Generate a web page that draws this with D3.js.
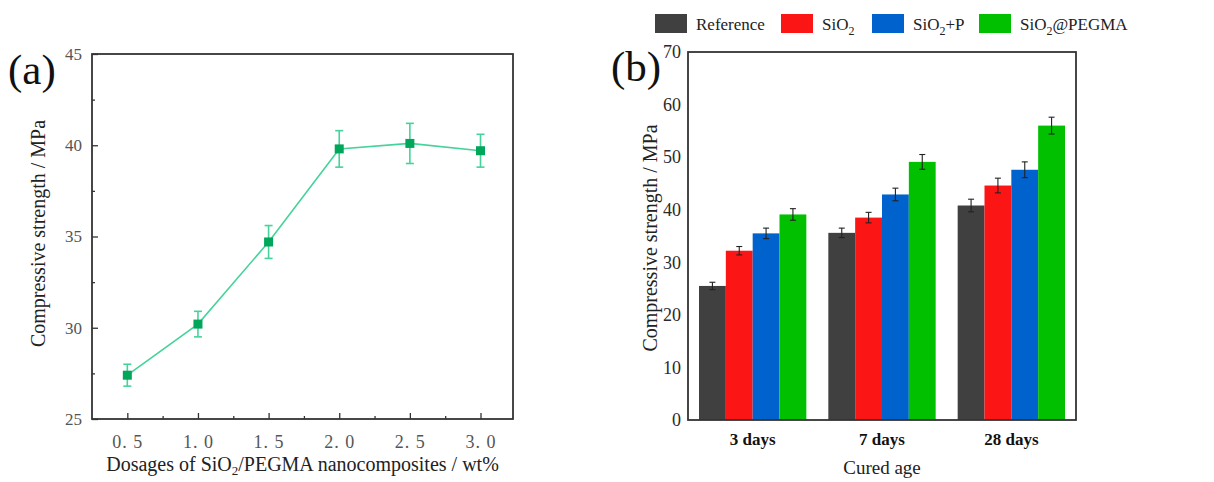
<!DOCTYPE html>
<html><head><meta charset="utf-8">
<script src="https://cdn.jsdelivr.net/npm/d3@7"></script>
<style>body{margin:0;background:#fff;} svg{display:block;}</style>
</head><body>
<svg id="c" width="1214" height="482"></svg>
<script>
// ---- Panel (a) data ----
const dosages = [0.5, 1.0, 1.5, 2.0, 2.5, 3.0];
const dosageLabels = ["0. 5", "1. 0", "1. 5", "2. 0", "2. 5", "3. 0"];
const strengthA = [27.4, 30.2, 34.7, 39.8, 40.1, 39.7];
const errorA = [0.6, 0.7, 0.9, 1.0, 1.1, 0.9];
const yTicksA = [25, 30, 35, 40, 45];

// ---- Panel (b) data ----
const ages = ["3 days", "7 days", "28 days"];
const seriesNames = ["Reference", "SiO2", "SiO2+P", "SiO2@PEGMA"];
const reference = [25.5, 35.6, 40.8];
const sio2 = [32.2, 38.5, 44.6];
const sio2P = [35.5, 42.9, 47.6];
const sio2Pegma = [39.1, 49.1, 56.0];
const errRef = [0.7, 0.9, 1.2];
const errSio2 = [0.8, 1.0, 1.4];
const errSio2P = [1.0, 1.2, 1.5];
const errPegma = [1.1, 1.4, 1.6];
const yTicksB = [0, 10, 20, 30, 40, 50, 60, 70];
const colors = ["#404040", "#fb1515", "#0062cc", "#00c000"];

const svg = d3.select("#c");
const serif = "'Liberation Serif','Times New Roman',serif";

// ================= Panel (a) =================
const A = {l: 92, r: 513, t: 54, b: 419};
const xA = d3.scaleLinear().domain([0.25, 3.23]).range([A.l, A.r]);
const yA = d3.scaleLinear().domain([25, 45]).range([A.b, A.t]);
const gA = svg.append("g");

// frame
gA.append("rect").attr("x", A.l).attr("y", A.t).attr("width", A.r - A.l).attr("height", A.b - A.t)
  .attr("fill", "none").attr("stroke", "#333").attr("stroke-width", 1.8);

// x axis ticks (inside)
const xAxisA = d3.axisBottom(xA).tickValues(dosages).tickSize(-6)
  .tickFormat((d, i) => dosageLabels[i]);
const gxA = gA.append("g").attr("transform", `translate(0,${A.b})`).call(xAxisA);
gxA.select(".domain").remove();
gxA.selectAll("line").attr("stroke", "#333").attr("stroke-width", 1.3);
gxA.selectAll("text").attr("font-family", serif).attr("font-size", 18).attr("fill", "#555")
  .attr("letter-spacing", 1).attr("dy", "1.45em");
// minor x ticks
const xMinor = d3.axisBottom(xA).tickValues([0.75, 1.25, 1.75, 2.25, 2.75]).tickSize(-3).tickFormat("");
const gxm = gA.append("g").attr("transform", `translate(0,${A.b})`).call(xMinor);
gxm.select(".domain").remove();
gxm.selectAll("line").attr("stroke", "#333").attr("stroke-width", 1.3);

// y axis
const yAxisA = d3.axisLeft(yA).tickValues(yTicksA).tickSize(-6).tickPadding(10);
const gyA = gA.append("g").attr("transform", `translate(${A.l},0)`).call(yAxisA);
gyA.select(".domain").remove();
gyA.selectAll("line").attr("stroke", "#333").attr("stroke-width", 1.3);
gyA.selectAll("text").attr("font-family", serif).attr("font-size", 17).attr("fill", "#555");
const yMinorA = d3.axisLeft(yA).tickValues([27.5, 32.5, 37.5, 42.5]).tickSize(-3).tickFormat("");
const gyam = gA.append("g").attr("transform", `translate(${A.l},0)`).call(yMinorA);
gyam.select(".domain").remove();
gyam.selectAll("line").attr("stroke", "#333").attr("stroke-width", 1.3);

// line
const line = d3.line().x((d, i) => xA(dosages[i])).y(d => yA(d));
gA.append("path").datum(strengthA).attr("d", line).attr("fill", "none")
  .attr("stroke", "#45d39b").attr("stroke-width", 1.6);
// error bars
const eb = gA.append("g").attr("stroke", "#45d39b").attr("stroke-width", 1.6);
strengthA.forEach((v, i) => {
  const x = xA(dosages[i]);
  eb.append("line").attr("x1", x).attr("x2", x).attr("y1", yA(v - errorA[i])).attr("y2", yA(v + errorA[i]));
  eb.append("line").attr("x1", x - 4).attr("x2", x + 4).attr("y1", yA(v - errorA[i])).attr("y2", yA(v - errorA[i]));
  eb.append("line").attr("x1", x - 4).attr("x2", x + 4).attr("y1", yA(v + errorA[i])).attr("y2", yA(v + errorA[i]));
});
// markers
gA.selectAll("rect.m").data(strengthA).enter().append("rect").attr("class", "m")
  .attr("x", (d, i) => xA(dosages[i]) - 4.5).attr("y", d => yA(d) - 4.5)
  .attr("width", 9).attr("height", 9).attr("fill", "#00a65a");

// labels
gA.append("text").attr("transform", `translate(45,${(A.t + A.b) / 2 - 3}) rotate(-90)`)
  .attr("text-anchor", "middle").attr("font-family", serif).attr("font-size", 20).attr("fill", "#222")
  .text("Compressive strength / MPa");
const xl = gA.append("text").attr("x", (A.l + A.r) / 2).attr("y", 471).attr("text-anchor", "middle")
  .attr("font-family", serif).attr("font-size", 20).attr("fill", "#222");
xl.append("tspan").text("Dosages of SiO");
xl.append("tspan").attr("font-size", 13).attr("dy", 4).text("2");
xl.append("tspan").attr("dy", -4).text("/PEGMA nanocomposites / wt%");
gA.append("text").attr("x", 8).attr("y", 84).attr("font-family", serif).attr("font-size", 43)
  .attr("fill", "#111").text("(a)");

// ================= Panel (b) =================
const B = {l: 688, r: 1076, t: 52, b: 420};
const x0 = d3.scaleBand().domain(ages).range([B.l, B.r]).padding(0);
const x1 = d3.scaleBand().domain(seriesNames).range([0, x0.bandwidth()]).paddingInner(0).paddingOuter(0.41);
const yB = d3.scaleLinear().domain([0, 70]).range([B.b, B.t]);
const gB = svg.append("g");

const seriesVals = [reference, sio2, sio2P, sio2Pegma];
const seriesErr = [errRef, errSio2, errSio2P, errPegma];

seriesNames.forEach((s, si) => {
  gB.selectAll(null).data(ages).enter().append("rect")
    .attr("x", a => x0(a) + x1(s)).attr("y", (a, i) => yB(seriesVals[si][i]))
    .attr("width", x1.bandwidth()).attr("height", (a, i) => yB(0) - yB(seriesVals[si][i]))
    .attr("fill", colors[si]);
});
// error bars
const ebB = gB.append("g").attr("stroke", "#222").attr("stroke-width", 1.1);
seriesNames.forEach((s, si) => {
  ages.forEach((a, i) => {
    const x = x0(a) + x1(s) + x1.bandwidth() / 2;
    const v = seriesVals[si][i], e = seriesErr[si][i];
    ebB.append("line").attr("x1", x).attr("x2", x).attr("y1", yB(v - e)).attr("y2", yB(v + e));
    ebB.append("line").attr("x1", x - 3).attr("x2", x + 3).attr("y1", yB(v - e)).attr("y2", yB(v - e));
    ebB.append("line").attr("x1", x - 3).attr("x2", x + 3).attr("y1", yB(v + e)).attr("y2", yB(v + e));
  });
});

// frame
gB.append("rect").attr("x", B.l).attr("y", B.t).attr("width", B.r - B.l).attr("height", B.b - B.t)
  .attr("fill", "none").attr("stroke", "#333").attr("stroke-width", 1.8);

// y axis (no tick marks)
const yAxisB = d3.axisLeft(yB).tickValues(yTicksB).tickSize(0).tickPadding(7);
const gyB = gB.append("g").attr("transform", `translate(${B.l},0)`).call(yAxisB);
gyB.select(".domain").remove();
gyB.selectAll("text").attr("font-family", serif).attr("font-size", 18).attr("fill", "#2a2a2a");

// x axis
const xAxisB = d3.axisBottom(x0).tickSize(0).tickPadding(10);
const gxB = gB.append("g").attr("transform", `translate(0,${B.b})`).call(xAxisB);
gxB.select(".domain").remove();
gxB.selectAll("text").attr("font-family", serif).attr("font-size", 17).attr("font-weight", "bold")
  .attr("fill", "#111").attr("dy", "0.9em");

gB.append("text").attr("transform", `translate(657,${(B.t + B.b) / 2 + 2}) rotate(-90)`)
  .attr("text-anchor", "middle").attr("font-family", serif).attr("font-size", 20).attr("fill", "#222")
  .text("Compressive strength / MPa");
gB.append("text").attr("x", (B.l + B.r) / 2).attr("y", 474).attr("text-anchor", "middle")
  .attr("font-family", serif).attr("font-size", 19).attr("fill", "#222").text("Cured age");
gB.append("text").attr("x", 611).attr("y", 81).attr("font-family", serif).attr("font-size", 43)
  .attr("fill", "#111").text("(b)");

// legend
const legendX = [655, 781, 872, 979];
const lg = gB.append("g");
seriesNames.forEach((s, si) => {
  lg.append("rect").attr("x", legendX[si]).attr("y", 14).attr("width", 32).attr("height", 19)
    .attr("fill", colors[si]);
  const t = lg.append("text").attr("x", legendX[si] + 41).attr("y", 30).attr("font-family", serif)
    .attr("font-size", 17).attr("fill", "#222");
  if (s.startsWith("SiO2")) {
    t.append("tspan").text("SiO");
    t.append("tspan").attr("font-size", 12).attr("dy", 5).text("2");
    const rest = s.slice(4);
    if (rest) t.append("tspan").attr("dy", -5).text(rest);
  } else {
    t.text(s);
  }
});
</script>
</body></html>
